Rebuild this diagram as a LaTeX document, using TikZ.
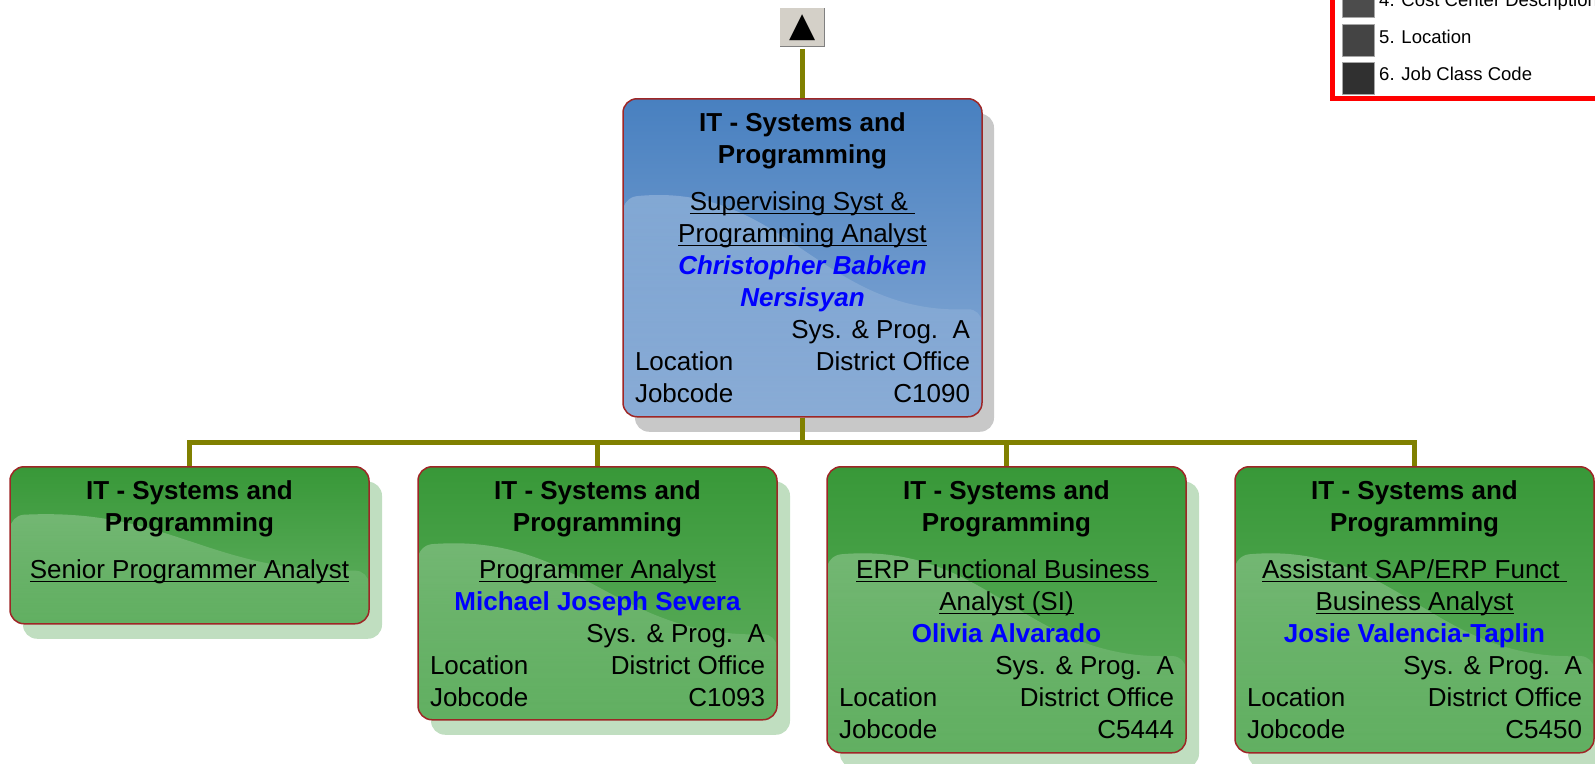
\documentclass[tikz,border=0pt]{standalone}
\usepackage{fontspec}
\setmainfont{Liberation Sans}
\newfontfamily\symfont{DejaVu Sans}
\usetikzlibrary{calc,shadows,fadings}

\definecolor{linkolive}{RGB}{128,128,0}
\definecolor{boxedge}{RGB}{158,38,38}
\definecolor{bluetop}{RGB}{72,128,192}
\definecolor{bluebot}{RGB}{138,172,214}
\definecolor{greentop}{RGB}{56,152,56}
\definecolor{greenbot}{RGB}{98,176,98}
\definecolor{blueshadow}{RGB}{200,200,200}
\definecolor{greenshadow}{RGB}{192,222,192}
\definecolor{nameblue}{RGB}{0,0,255}
\definecolor{btnface}{RGB}{212,208,200}
\definecolor{btndark}{RGB}{128,128,128}
\definecolor{keyfour}{RGB}{76,76,76}
\definecolor{keyfive}{RGB}{68,68,68}
\definecolor{keysix}{RGB}{48,48,48}

\newsavebox\ulbox
\newcommand\ultext[1]{\leavevmode\sbox\ulbox{#1}\rlap{\rule[-3.5pt]{\wd\ulbox}{1.5pt}}\usebox\ulbox}
\newcommand\orgrow[2]{\makebox[\linewidth]{#1\hfill#2}}
\newcommand\deptname{\textbf{IT - Systems and}\\\textbf{Programming}}
\newcommand\blueguy[1]{\leavevmode{\color{nameblue}\bfseries #1}}

\tikzset{
	wave/.style={path picture={
		\fill[white, fill opacity=#1, path fading=south]
			let \p1=(path picture bounding box.north west),
				\p2=(path picture bounding box.south east),
				\n1={\x2-\x1}, \n2={\y1-\y2} in
			(\x1,{\y1-0.31*\n2})
			.. controls ({\x1+0.45*\n1},{\y1-0.26*\n2}) and ({\x1+0.55*\n1},{\y1-0.68*\n2})
			.. (\x2,{\y1-0.66*\n2})
			-- (\x2,\y2) -- (\x1,\y2) -- cycle;
	}},
	orgbox/.style={rectangle, rounded corners=14pt, draw=boxedge, line width=1.5pt,
		inner xsep=12pt, inner ysep=8pt, anchor=north, font=\fontsize{26}{32}\selectfont},
	bluebox/.style={orgbox, top color=bluetop, bottom color=bluebot, wave=0.34,
		drop shadow={shadow xshift=12pt, shadow yshift=-15pt, fill=blueshadow, opacity=1}},
	greenbox/.style={orgbox, top color=greentop, bottom color=greenbot, wave=0.36,
		drop shadow={shadow xshift=13pt, shadow yshift=-15pt, fill=greenshadow, opacity=1}},
	link/.style={draw=linkolive, line width=5pt},
	btn/.style={rectangle, fill=btnface, draw=white, line width=1.5pt, inner sep=0pt,
		minimum width=46pt, minimum height=41pt,
		path picture={\draw[btndark, line width=4pt]
			(path picture bounding box.north east) -- (path picture bounding box.south east)
			-- (path picture bounding box.south west);}},
	keysq/.style={rectangle, draw=gray!70, line width=1pt, minimum size=32pt, inner sep=0pt},
	keytext/.style={anchor=base west, inner sep=0pt, font=\fontsize{18.5}{22}\selectfont},
}

\begin{document}
\begin{tikzpicture}[x=1pt,y=-1pt]
			\useasboundingbox (0,0) rectangle (1595,763);
			% top: button and the supervisor
			\node	(up) at (802.5,27.5) [btn] {\symfont\fontsize{34}{34}\selectfont ▲};
			\node	(head) at (802.5,98) [bluebox] {\parbox[t][302pt][t]{335pt}{\centering\rule{0pt}{25pt}\deptname\\[15pt]
				\ultext{Supervising Syst \&\ }\\
				\ultext{Programming Analyst}\\
				\blueguy{\itshape Christopher Babken}\\
				\blueguy{\itshape Nersisyan}\\
				\orgrow{}{Sys. \& Prog.\ \ A}\\
				\orgrow{Location}{District Office}\\
				\orgrow{Jobcode}{C1090}}};
			% second row
			\node	(senior) at (189.5,466) [greenbox] {\parbox[t][141pt][t]{335pt}{\centering\rule{0pt}{25pt}\deptname\\[15pt]
				\ultext{Senior Programmer Analyst}}};
			\node	(prog) at (597.5,466) [greenbox] {\parbox[t][237pt][t]{335pt}{\centering\rule{0pt}{25pt}\deptname\\[15pt]
				\ultext{Programmer Analyst}\\
				\blueguy{Michael Joseph Severa}\\
				\orgrow{}{Sys. \& Prog.\ \ A}\\
				\orgrow{Location}{District Office}\\
				\orgrow{Jobcode}{C1093}}};
			\node	(erp) at (1006.5,466) [greenbox] {\parbox[t][270pt][t]{335pt}{\centering\rule{0pt}{25pt}\deptname\\[15pt]
				\ultext{ERP Functional Business\ }\\
				\ultext{Analyst (SI)}\\
				\blueguy{Olivia Alvarado}\\
				\orgrow{}{Sys. \& Prog.\ \ A}\\
				\orgrow{Location}{District Office}\\
				\orgrow{Jobcode}{C5444}}};
			\node	(sap) at (1414.5,466) [greenbox] {\parbox[t][270pt][t]{335pt}{\centering\rule{0pt}{25pt}\deptname\\[15pt]
				\ultext{Assistant SAP/ERP Funct\ }\\
				\ultext{Business Analyst}\\
				\blueguy{Josie Valencia-Taplin}\\
				\orgrow{}{Sys. \& Prog.\ \ A}\\
				\orgrow{Location}{District Office}\\
				\orgrow{Jobcode}{C5450}}};
			\draw 
			(up.south) edge[link] (head.north)
			;
			\draw[link] (head.south) -- ++(0,25) -| (senior.north);
			\draw[link] (head.south) -- ++(0,25) -| (prog.north);
			\draw[link] (head.south) -- ++(0,25) -| (erp.north);
			\draw[link] (head.south) -- ++(0,25) -| (sap.north);
			% legend, cut by the right edge
			\draw[red, line width=4.5pt] (1332.5,-20) rectangle (1660,98.5);
			\node	(k4) at (1358,1.5) [keysq, fill=keyfour] {};
			\node	(k5) at (1358,40.5) [keysq, fill=keyfive] {};
			\node	(k6) at (1358,78) [keysq, fill=keysix] {};
			\node	(t4) at (1379,6) [keytext] {4. Cost Center Description};
			\node	(t5) at (1379,43.5) [keytext] {5. Location};
			\node	(t6) at (1379,80) [keytext] {6. Job Class Code};
		\end{tikzpicture}
\end{document}
